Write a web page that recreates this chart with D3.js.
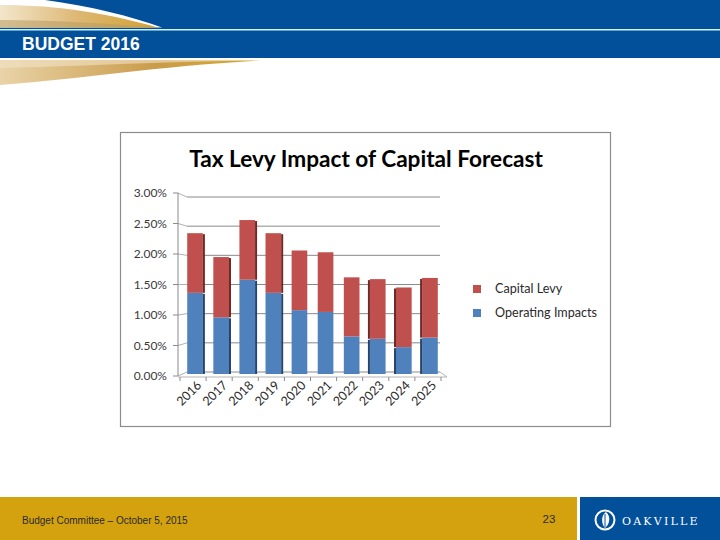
<!DOCTYPE html>
<html><head><meta charset="utf-8">
<script src="https://cdn.jsdelivr.net/npm/d3@7"></script>
<style>body{margin:0;background:#fff}svg{display:block}</style>
</head><body>
<svg id="c" width="720" height="540"></svg>
<script>
// ---- data ----
const years = ["2016","2017","2018","2019","2020","2021","2022","2023","2024","2025"];
const operatingImpacts = [1.36,0.95,1.58,1.36,1.07,1.04,0.63,0.59,0.45,0.61];
const capitalLevy      = [1.00,1.01,1.00,1.00,1.00,1.00,0.99,1.00,1.00,1.00];
const yTicks = [0,0.5,1,1.5,2,2.5,3];
const seriesNames = ["Capital Levy","Operating Impacts"];
const seriesColors = ["#C0504D","#4F81BD"];
const sideColors = ["#6E2826","#27456B"];
const chartTitle = "Tax Levy Impact of Capital Forecast";
const slideTitle = "BUDGET 2016";
const footerText = "Budget Committee \u2013 October 5, 2015";
const pageNumber = "23";

const svg = d3.select("#c");
const defs = svg.append("defs");

// ---- header ----
svg.append("rect").attr("x",0).attr("y",0).attr("width",720).attr("height",58).attr("fill","#02509A");
svg.append("rect").attr("x",0).attr("y",29).attr("width",720).attr("height",1.5).attr("fill","#CFF3F3");

const g1 = defs.append("linearGradient").attr("id","gold1").attr("x1","0").attr("x2","1").attr("y1","0").attr("y2","0");
g1.append("stop").attr("offset","0").attr("stop-color","#F3E6CC");
g1.append("stop").attr("offset","0.5").attr("stop-color","#DDB772");
g1.append("stop").attr("offset","1").attr("stop-color","#D2A030");
const g2 = defs.append("linearGradient").attr("id","gold2").attr("x1","0").attr("x2","1").attr("y1","0").attr("y2","0");
g2.append("stop").attr("offset","0").attr("stop-color","#E9D3A8");
g2.append("stop").attr("offset","0.6").attr("stop-color","#C99C4A");
g2.append("stop").attr("offset","1").attr("stop-color","#D8A630");

// upper swoosh
svg.append("path").attr("d","M0,0 L45,0 C90,6 130,16 162,27.5 L0,27.5 Z").attr("fill","#FFFFFF");
svg.append("path").attr("d","M0,5 C60,5 110,14 158,27.5 L0,27.5 Z").attr("fill","url(#gold1)");
svg.append("path").attr("d","M0,20 C60,20 110,24 158,27.5 L0,27.5 Z").attr("fill","#B89A60").attr("opacity",0.55);
// lower swoosh
svg.append("path").attr("d","M0,58 L262,58 L262,60 C160,66 80,80 0,86 Z").attr("fill","#FFFFFF");
svg.append("path").attr("d","M0,60 L260,60.5 C160,66 80,79 0,85 Z").attr("fill","url(#gold2)");
svg.append("path").attr("d","M0,60 L250,60.5 C160,62 80,66 0,68 Z").attr("fill","#F1E3C6").attr("opacity",0.6);

svg.append("text").attr("x",22).attr("y",50).text(slideTitle)
  .attr("font-family","Liberation Sans, Arial, sans-serif").attr("font-weight","bold")
  .attr("font-size",17.5).attr("fill","#FFFFFF");

// ---- footer ----
svg.append("rect").attr("x",0).attr("y",497).attr("width",577).attr("height",43).attr("fill","#D4A20F");
svg.append("rect").attr("x",580).attr("y",497).attr("width",140).attr("height",43).attr("fill","#02509A");
svg.append("text").attr("x",22).attr("y",524).text(footerText)
  .attr("font-family","Liberation Sans, Arial, sans-serif").attr("font-size",10).attr("fill","#2a2a2a");
svg.append("text").attr("x",549).attr("y",523).attr("text-anchor","middle").text(pageNumber)
  .attr("font-family","Liberation Sans, Arial, sans-serif").attr("font-size",11.5).attr("fill","#2a2a2a");
// logo
svg.append("circle").attr("cx",605).attr("cy",520).attr("r",9.5).attr("fill","none").attr("stroke","#fff").attr("stroke-width",2);
svg.append("path").attr("d","M606,512 C601,515 601,524 605,528 C610,524 611,516 606,512 Z").attr("fill","#fff");
svg.append("path").attr("d","M605,514 L605,527").attr("stroke","#02509A").attr("stroke-width",1);
svg.append("text").attr("x",622).attr("y",525).text("OAKVILLE")
  .attr("font-family","DejaVu Serif, Liberation Serif, serif").attr("font-size",11).attr("letter-spacing",2.2).attr("fill","#fff");

// ---- chart frame ----
svg.append("rect").attr("x",120.5).attr("y",132.5).attr("width",490).attr("height",294)
  .attr("fill","#fff").attr("stroke","#8C8C8C").attr("stroke-width",1.2);

const title = svg.append("text").attr("x",366).attr("y",167).attr("text-anchor","middle").text(chartTitle)
  .attr("font-family","Lato, sans-serif").attr("font-weight","bold").attr("font-size",22).attr("fill","#000");
const tw = title.node().getComputedTextLength();
title.attr("font-size", 22*354/tw);

// ---- scales ----
const x = d3.scaleBand().domain(years).range([182,443]).paddingInner(0).paddingOuter(0);
const y = d3.scaleLinear().domain([0,3]).range([374,195]);       // bars
const yBack = d3.scaleLinear().domain([0,3]).range([372,197]);   // back wall
const yFront = d3.scaleLinear().domain([0,3]).range([376,193]);  // front axis
const axisX = 178, backX0 = 187, backX1 = 440, frontX1 = 447;
const gridCol = "#8A8A8A";

// gridlines
const grid = svg.append("g");
yTicks.forEach(v => {
  grid.append("line").attr("x1",backX0).attr("x2",backX1).attr("y1",yBack(v)).attr("y2",yBack(v))
    .attr("stroke",gridCol).attr("stroke-width",1);
  grid.append("line").attr("x1",axisX).attr("x2",backX0).attr("y1",yFront(v)).attr("y2",yBack(v))
    .attr("stroke","#B0B0B0").attr("stroke-width",1);
  grid.append("line").attr("x1",axisX-5).attr("x2",axisX).attr("y1",yFront(v)).attr("y2",yFront(v))
    .attr("stroke",gridCol).attr("stroke-width",1);
});
// y axis
grid.append("line").attr("x1",axisX).attr("x2",axisX).attr("y1",yFront(0)).attr("y2",yFront(3))
  .attr("stroke",gridCol).attr("stroke-width",1);
// floor front edge
grid.append("line").attr("x1",axisX).attr("x2",frontX1).attr("y1",yFront(0)+1).attr("y2",yFront(0)+1)
  .attr("stroke","#B5B5B5").attr("stroke-width",1);
grid.append("line").attr("x1",backX1).attr("x2",frontX1).attr("y1",yBack(0)).attr("y2",yFront(0)+1)
  .attr("stroke","#B5B5B5").attr("stroke-width",1);
// x ticks
years.concat(["end"]).forEach((d,i) => {
  const xx = (i < years.length ? x(d) : x(years[years.length-1]) + x.bandwidth()) - 2;
  grid.append("line").attr("x1",xx).attr("x2",xx).attr("y1",yFront(0)+1).attr("y2",yFront(0)+5)
    .attr("stroke",gridCol).attr("stroke-width",1);
});

// y labels
svg.append("g").selectAll("text").data(yTicks).join("text")
  .attr("x",167).attr("y",d => yFront(d)).attr("dy","0.35em").attr("text-anchor","end")
  .text(d => d3.format(".2f")(d) + "%")
  .attr("font-family","Lato, sans-serif").attr("font-size",12).attr("fill","#3a3a3a");

// bars
const bw = x.bandwidth()*0.6;
const bars = svg.append("g");
years.forEach((yr,i) => {
  const cx = x(yr) + x.bandwidth()/2;
  const x0 = cx - bw/2;
  const segs = [
    {v0:0, v1:operatingImpacts[i], s:1},
    {v0:operatingImpacts[i], v1:operatingImpacts[i]+capitalLevy[i], s:0}
  ];
  segs.forEach(sg => {
    bars.append("rect").attr("x",x0).attr("y",y(sg.v1)).attr("width",bw).attr("height",y(sg.v0)-y(sg.v1))
      .attr("fill",seriesColors[sg.s]);
    if (i < 4) {
      bars.append("rect").attr("x",x0+bw).attr("y",y(sg.v1)+1).attr("width",2).attr("height",y(sg.v0)-y(sg.v1)-1)
        .attr("fill",sideColors[sg.s]);
    } else if (i > 6) {
      bars.append("rect").attr("x",x0-2).attr("y",y(sg.v1)+1).attr("width",2).attr("height",y(sg.v0)-y(sg.v1)-1)
        .attr("fill",sideColors[sg.s]);
    }
  });
});

// x labels
svg.append("g").selectAll("text").data(years).join("text")
  .attr("transform",d => `translate(${x(d)+x.bandwidth()/2+4},${yFront(0)+7}) rotate(-45)`)
  .attr("text-anchor","end").attr("dy","0.35em")
  .text(d => d)
  .attr("font-family","Lato, sans-serif").attr("font-size",12.5).attr("fill","#2a2a2a");

// legend
const leg = svg.append("g");
seriesNames.forEach((n,i) => {
  leg.append("rect").attr("x",473).attr("y",285+i*24).attr("width",8).attr("height",8).attr("fill",seriesColors[i]);
  leg.append("text").attr("x",495).attr("y",289+i*24).attr("dy","0.35em").text(n)
    .attr("font-family","Lato, sans-serif").attr("font-size",12.6).attr("fill","#2a2a2a");
});
</script>
</body></html>
